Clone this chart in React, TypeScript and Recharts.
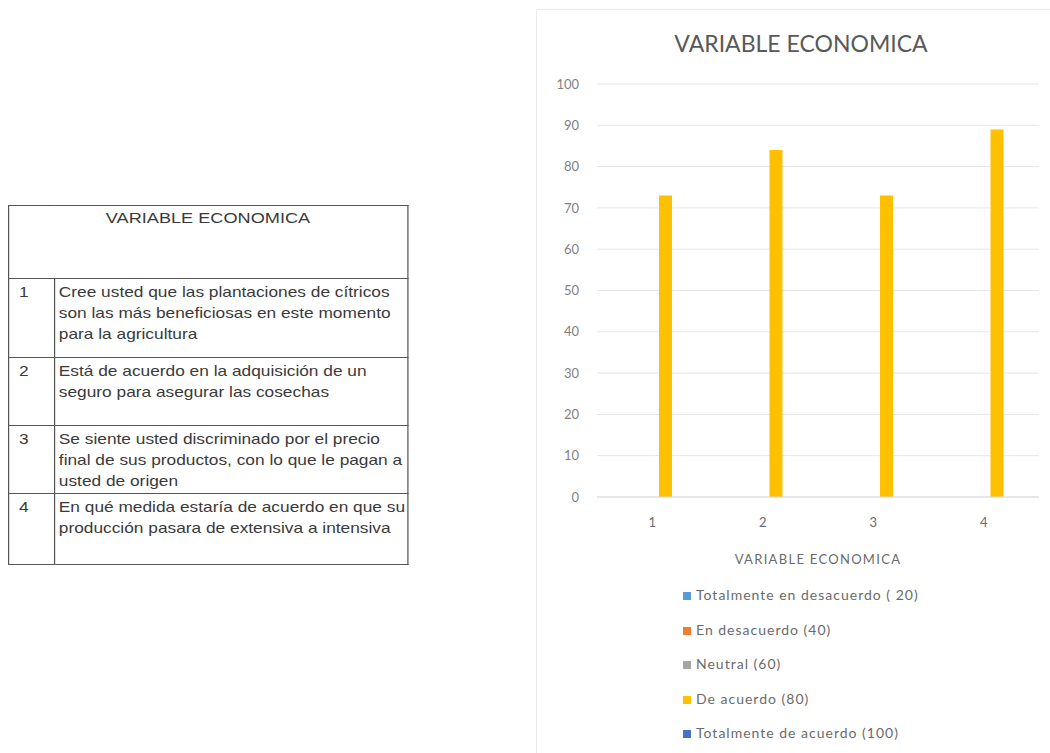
import React from "react"
import { Bar, BarChart, CartesianGrid, XAxis, YAxis, Legend, Label } from "recharts"

const categories = ["1", "2", "3", "4"]
const totalmenteDesacuerdo: (number | null)[] = [null, null, null, null]
const enDesacuerdo: (number | null)[] = [null, null, null, null]
const neutral: (number | null)[] = [null, null, null, null]
const deAcuerdo: (number | null)[] = [73, 84, 73, 89]
const totalmenteAcuerdo: (number | null)[] = [null, null, null, null]
const yTicks = [0, 10, 20, 30, 40, 50, 60, 70, 80, 90, 100]

const seriesNames = [
  "Totalmente en desacuerdo ( 20)",
  "En desacuerdo (40)",
  "Neutral (60)",
  "De acuerdo (80)",
  "Totalmente de acuerdo (100)",
]
const seriesColors = ["#5B9BD5", "#ED7D31", "#A5A5A5", "#FFC000", "#4472C4"]

// question text, one entry per printed line
const questions = [
  ["Cree usted que las plantaciones de cítricos", "son las más beneficiosas en este momento", "para la agricultura"],
  ["Está de acuerdo en la adquisición de un", "seguro para asegurar las cosechas"],
  ["Se siente usted discriminado por el precio", "final de sus productos, con lo que le pagan a", "usted de origen"],
  ["En qué medida estaría de acuerdo en que su", "producción pasara de extensiva a intensiva"],
]
const rowHeights = [79, 68, 67, 71]

const data = categories.map((name, i) => ({
  name,
  s1: totalmenteDesacuerdo[i],
  s2: enDesacuerdo[i],
  s3: neutral[i],
  s4: deAcuerdo[i],
  s5: totalmenteAcuerdo[i],
}))

const chartFont = "Lato, 'Open Sans', sans-serif"
const stretch = 1.21

function LegendList(props: any) {
  const items = [...(props.payload || [])].sort(
    (a: any, b: any) => seriesNames.indexOf(a.value) - seriesNames.indexOf(b.value)
  )
  return (
    <div style={{ fontFamily: chartFont, fontSize: 14, letterSpacing: 1, color: "#6b6b6b" }}>
      {items.map((p: any) => (
        <div key={p.value} style={{ height: 34.5, lineHeight: "34px", whiteSpace: "nowrap" }}>
          <span style={{ display: "inline-block", width: 8, height: 8, background: p.color, marginRight: 5 }} />
          {p.value}
        </div>
      ))}
    </div>
  )
}

function QuestionTable() {
  const border = "1px solid #555"
  return (
    <div style={{ position: "absolute", left: 8, top: 205, transform: `scaleX(${stretch})`, transformOrigin: "0 0" }}>
      <table
        style={{
          width: 400 / stretch,
          borderCollapse: "collapse",
          fontFamily: "'Liberation Sans', Arial, sans-serif",
          fontSize: 14.3,
          color: "#3a3a3a",
          lineHeight: "21px",
        }}
      >
        <tbody>
          <tr style={{ height: 73 }}>
            <td colSpan={2} style={{ border, textAlign: "center", verticalAlign: "top", paddingTop: 1, fontSize: 15 }}>
              VARIABLE ECONOMICA
            </td>
          </tr>
          {questions.map((lines, i) => (
            <tr key={i} style={{ height: rowHeights[i] }}>
              <td style={{ border, width: 28, verticalAlign: "top", paddingLeft: 8, paddingTop: 3 }}>{i + 1}</td>
              <td style={{ border, verticalAlign: "top", paddingLeft: 3, paddingRight: 0, paddingTop: 3, whiteSpace: "nowrap" }}>
                {lines.map((l, j) => (
                  <div key={j}>{l}</div>
                ))}
              </td>
            </tr>
          ))}
        </tbody>
      </table>
    </div>
  )
}

export default function App() {
  return (
    <div style={{ position: "absolute", left: 0, top: 0, width: 1050, height: 753, overflow: "hidden", background: "#fff" }}>
      <QuestionTable />
      <div
        style={{
          position: "absolute",
          left: 536,
          top: 9,
          width: 528,
          height: 744,
          border: "1px solid #ececec",
          background: "#fff",
        }}
      >
        <div
          style={{
            position: "absolute",
            left: 0,
            top: 19,
            width: 528,
            textAlign: "center",
            fontFamily: chartFont,
            fontSize: 23,
            color: "#595959",
          }}
        >
          VARIABLE ECONOMICA
        </div>
        <BarChart
          width={528}
          height={740}
          data={data}
          barSize={13}
          barGap={0}
          margin={{ top: 74, right: 26, left: 0, bottom: 173 }}
        >
          <CartesianGrid vertical={false} stroke="#e6e6e6" />
          <XAxis
            dataKey="name"
            height={80}
            tickLine={false}
            tickSize={0}
            tickMargin={21}
            stroke="#d9d9d9"
            tick={{ fill: "#6b6b6b", fontSize: 13, fontFamily: chartFont }}
          >
            <Label
              value="VARIABLE ECONOMICA"
              position="insideBottom"
              offset={13}
              style={{ fill: "#6b6b6b", fontSize: 13, letterSpacing: 1.3, fontFamily: chartFont }}
            />
          </XAxis>
          <YAxis
            width={60}
            domain={[0, 100]}
            ticks={yTicks}
            axisLine={false}
            tickLine={false}
            tickSize={0}
            tickMargin={18}
            tick={{ fill: "#7f7f7f", fontSize: 13, fontFamily: chartFont }}
          />
          <Legend
            layout="vertical"
            align="center"
            verticalAlign="middle"
            content={<LegendList />}
            wrapperStyle={{ top: 568, left: 146, width: 340 }}
          />
          <Bar dataKey="s1" name={seriesNames[0]} fill={seriesColors[0]} isAnimationActive={false} />
          <Bar dataKey="s2" name={seriesNames[1]} fill={seriesColors[1]} isAnimationActive={false} />
          <Bar dataKey="s3" name={seriesNames[2]} fill={seriesColors[2]} isAnimationActive={false} />
          <Bar dataKey="s4" name={seriesNames[3]} fill={seriesColors[3]} isAnimationActive={false} />
          <Bar dataKey="s5" name={seriesNames[4]} fill={seriesColors[4]} isAnimationActive={false} />
        </BarChart>
      </div>
    </div>
  )
}
